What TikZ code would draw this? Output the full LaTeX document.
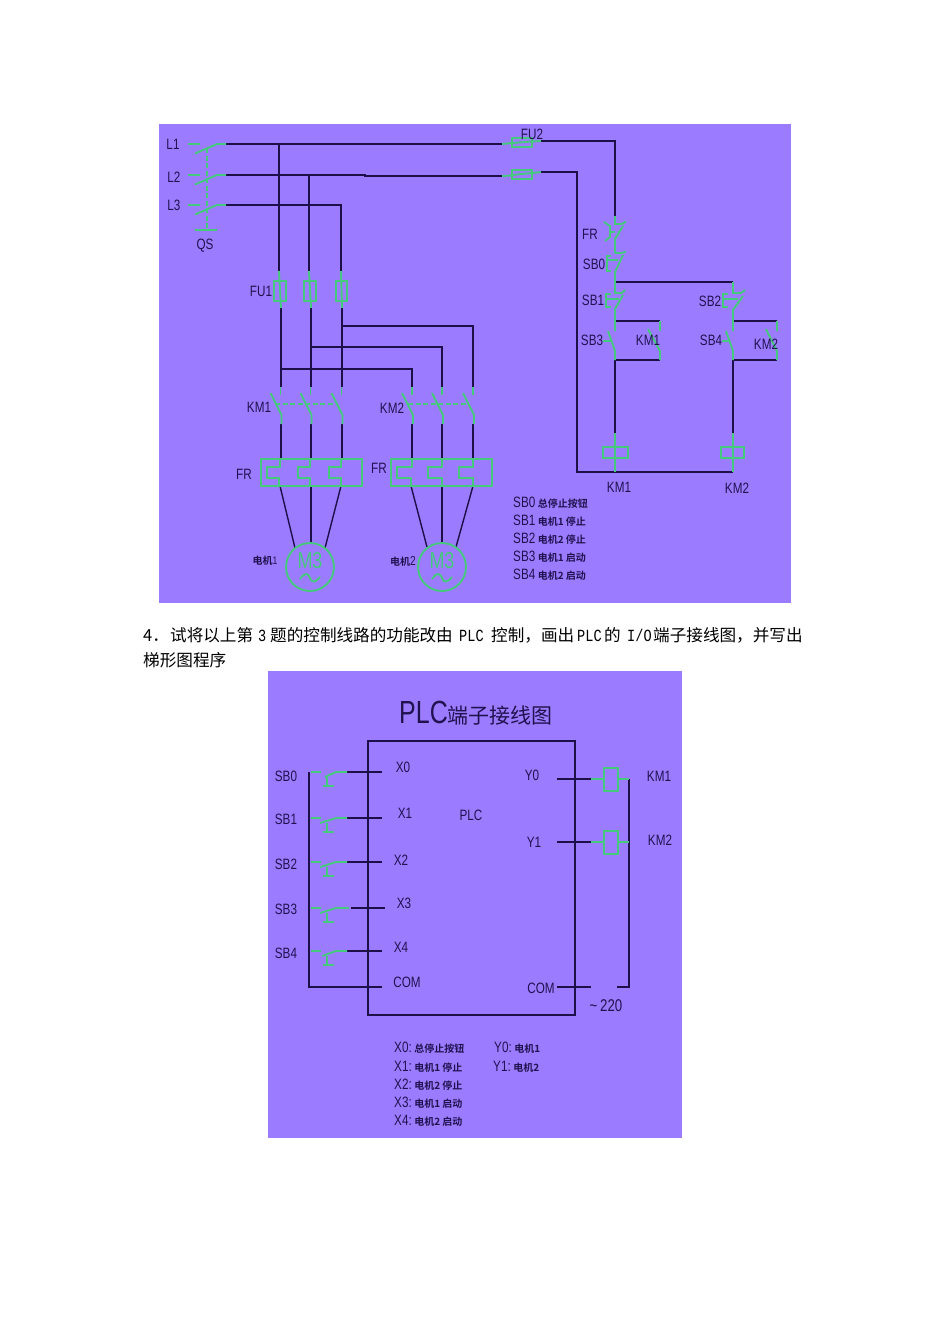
\documentclass[tikz,border=0pt]{standalone}
\usepackage{fontspec}
\setmainfont{Liberation Sans}
\newfontfamily\cad[FakeStretch=0.78]{Liberation Sans}
\newfontfamily\cjk{Noto Sans CJK SC}
\newfontfamily\cjkb{Noto Sans CJK SC Bold}
\newfontfamily\mono[FakeStretch=0.8]{Liberation Mono}
\definecolor{bgv}{HTML}{9B7BFF}
\definecolor{grn}{HTML}{45C97C}
\definecolor{ink}{HTML}{1C0F4A}
\definecolor{lab}{HTML}{20124F}
\tikzset{
 wire/.style={draw=ink,line width=1.4pt},
 gr/.style={draw=grn,line width=1.9pt},
 grd/.style={gr,dash pattern=on 5pt off 2.5pt},
 lbl/.style={inner sep=0pt,text=lab,font=\cad\fontsize{15}{15}\selectfont},
 leg/.style={lbl,anchor=west},
 para/.style={inner sep=0pt,anchor=west,text=black,font=\cjk\fontsize{16.6}{16.6}\selectfont},
}
\newcommand{\zh}[1]{{\cjkb\fontsize{10}{10}\selectfont #1}}
\newcommand{\lat}[1]{{\mono\fontsize{17}{17}\selectfont #1}}
\newcommand{\fr}[2]{\makebox[#1pt][l]{#2}}
% vertical fuse
\newcommand{\fusev}[2]{\draw[gr] (#1,271)--(#2,308); \draw[gr] (#1-5,281) rectangle (#2+5,301);}
% line contactor pole
\newcommand{\pole}[1]{\draw[gr] (#1,387)--(#1,395); \draw[gr] (#1-10,393)--(#1+1,415)--(#1+1,424);}
% PLC input contact
\newcommand{\plcsw}[3]{\draw[gr] (311,#1)--(321,#1); \draw[gr] (#3,#1+5)--(336,#1)--(#2,#1);
 \draw[gr] (327,#1+5)--(327,#1+14); \draw[gr] (323,#1+14)--(334,#1+14);}
\newcommand{\plcoil}[1]{\draw[gr] (591,#1)--(604,#1); \draw[gr] (618,#1)--(629,#1); \draw[gr] (604,#1-11) rectangle (618,#1+12);}
\begin{document}
\begin{tikzpicture}[x=1pt,y=-1pt]
\useasboundingbox (0,0) rectangle (950,1344);
\fill[white] (0,0) rectangle (950,1344);
\fill[bgv] (159,124) rectangle (791,603);
\fill[bgv] (268,671) rectangle (682,1138);
% ---- named points, power circuit
\coordinate (l1) at (226,144); \coordinate (l2) at (226,175); \coordinate (l3) at (226,205);
\coordinate (fa) at (279,271); \coordinate (fb) at (309,271); \coordinate (fc) at (341,271);
\coordinate (ga) at (281,308); \coordinate (gb) at (311,308); \coordinate (gc) at (342,308);
\coordinate (ka) at (281,387); \coordinate (kb) at (311,387); \coordinate (kc) at (342,387);
\coordinate (ma) at (412,387); \coordinate (mb) at (442,387); \coordinate (mc) at (473,387);
\coordinate (fu2a) at (502,144); \coordinate (fu2b) at (502,176);
\coordinate (fu2c) at (541,141); \coordinate (fu2d) at (541,172);
\coordinate (frt) at (615,216); \coordinate (jn) at (615,282); \coordinate (jn2) at (733,282);
\coordinate (c1t) at (615,433); \coordinate (c2t) at (733,433);
\coordinate (rtn) at (577,472); \coordinate (rtn2) at (733,472);
% dark wires
\draw[wire] (l1)--(fu2a);
\draw[wire] (l2)--(365,175)--(365,176)--(fu2b);
\draw[wire] (l3)-|(fc);
\draw[wire] (279,144)--(fa); \draw[wire] (309,175)--(fb);
\draw[wire] (ga)--(ka); \draw[wire] (gb)--(kb); \draw[wire] (gc)--(kc);
\draw[wire] (342,326)-|(mc);
\draw[wire] (311,347)-|(mb);
\draw[wire] (281,369)-|(ma);
\foreach \x in {281,311,342,412,442,473}{\draw[wire] (\x,424)--(\x,459);}
\draw[wire] (280,486)--(295,548); \draw[wire] (311,486)--(311,543); \draw[wire] (341,486)--(325,548);
\draw[wire] (411,486)--(427,547); \draw[wire] (442,486)--(442,543); \draw[wire] (473,486)--(456,547);
\draw[wire] (fu2c)-|(frt);
\draw[wire] (fu2d)-|(rtn)--(rtn2);
\draw[wire] (jn)--(jn2);
\draw[wire] (615,321)--(660,321); \draw[wire] (733,321)--(777,321);
\draw[wire] (660,360)--(615,360)--(c1t);
\draw[wire] (777,360)--(733,360)--(c2t);
% QS
\foreach \y in {144,175,205}{
 \draw[gr] (188,\y)--(200,\y);
 \draw[gr] (195,\y+9.5)--(217,\y)--(226,\y);
}
\draw[grd] (207,148)--(207,230);
\draw[gr] (195,230)--(217,230);
% FU1
\fusev{279}{281}\fusev{309}{311}\fusev{341}{342}
% KM poles
\foreach \x in {280.5,310.5,341.5,412,442,473}{\pole{\x}}
\draw[grd] (275,404)--(335,404);
\draw[grd] (408,404)--(467,404);
% FR boxes
\draw[gr] (261,459) rectangle (362,486);
\draw[gr] (280,459)--(280,467)--(267,467)--(267,478)--(279,478)--(279,486);
\draw[gr] (310,459)--(310,467)--(298,467)--(298,478)--(310,478)--(310,486);
\draw[gr] (341,459)--(341,467)--(329,467)--(329,478)--(341,478)--(341,486);
\draw[gr] (391,459) rectangle (492,486);
\draw[gr] (412,459)--(412,467)--(397,467)--(397,478)--(411,478)--(411,486);
\draw[gr] (442,459)--(442,467)--(428,467)--(428,478)--(442,478)--(442,486);
\draw[gr] (473,459)--(473,467)--(459,467)--(459,478)--(473,478)--(473,486);
% motors
\foreach \x/\n in {310/a,442/b}{
 \draw[gr] (\x,567) circle (24);
 \node[inner sep=0pt,text=grn,font=\cad\fontsize{23}{23}\selectfont] (m\n) at (\x,561) {M3};
 \draw[gr] (\x-10,579) .. controls (\x-5,572) and (\x-2,573) .. (\x,578) .. controls (\x+2,583) and (\x+5,583) .. (\x+10,577);
}
% FU2
\draw[gr] (fu2a)--(512,143) (532,141.5)--(fu2c); \draw[gr] (512,138) rectangle (532,147);
\draw[gr] (512,143)--(532,141.5);
\draw[gr] (fu2b)--(512,175.5) (532,173)--(fu2d); \draw[gr] (512,170) rectangle (532,179);
\draw[gr] (512,175)--(532,173);
% FR contact
\draw[gr] (frt)--(615,224)--(622,224)--(626,221.5);
\draw[gr] (623,226)--(615,239)--(615,253);
\draw[gr] (604,222)--(610,226)--(610,237)--(605,241);
\draw[grd] (610,232)--(620,232);
% SB0
\draw[gr] (615,253)--(622,253)--(626,251.5);
\draw[gr] (623,255)--(615,272)--(jn);
\draw[gr] (611,256)--(607,256)--(607,271)--(611,271);
\draw[gr] (607,260)--(618,260);
% SB1, SB2
\draw[gr] (jn)--(615,293)--(622,293)--(625,290);
\draw[gr] (623,295)--(615,309)--(615,321);
\draw[gr] (611,294)--(606,294)--(606,307)--(611,307);
\draw[gr] (606,299)--(619,299);
\draw[gr] (jn2)--(733,293)--(741,293)--(745,290);
\draw[gr] (743,296)--(733,310)--(733,321);
\draw[gr] (728,294)--(723,294)--(723,307)--(728,307);
\draw[gr] (723,299)--(738,299);
% SB3, SB4, KM aux
\draw[gr] (615,321)--(615,331) (608,331)--(615,351)--(615,360);
\draw[gr] (603,341)--(612,341);
\draw[gr] (733,321)--(733,331) (726,331)--(733,351)--(733,360);
\draw[gr] (722,341)--(730,341);
\draw[gr] (660,321)--(660,331) (648,329)--(660,351)--(660,360);
\draw[gr] (777,321)--(777,331) (766,329)--(777,351)--(777,360);
% coils
\draw[gr] (c1t)--(615,472); \draw[gr] (603,447) rectangle (628,458);
\draw[gr] (c2t)--(733,472); \draw[gr] (721,447) rectangle (744,458);
% labels top
\node[lbl] (tL1) at (173,144) {L1};
\node[lbl] (tL2) at (174,177) {L2};
\node[lbl] (tL3) at (174,205) {L3};
\node[lbl] (tQS) at (205,246) {QS};
\node[lbl] (tFU1) at (261,291) {FU1};
\node[lbl] (tFU2) at (532,134) {FU2};
\node[lbl] (tFRa) at (590,234) {FR};
\node[lbl] (tSB0) at (594,264) {SB0};
\node[lbl] (tSB1) at (593,300) {SB1};
\node[lbl] (tSB2) at (710,301) {SB2};
\node[lbl] (tSB3) at (592,340) {SB3};
\node[lbl] (tSB4) at (711,340) {SB4};
\node[lbl] (tA1) at (648,340) {KM1};
\node[lbl] (tA2) at (766,344) {KM2};
\node[lbl] (tK1) at (259,407) {KM1};
\node[lbl] (tK2) at (392,408) {KM2};
\node[lbl] (tFRb) at (244,474) {FR};
\node[lbl] (tFRc) at (379,468) {FR};
\node[lbl] (tC1) at (619,487) {KM1};
\node[lbl] (tC2) at (737,488) {KM2};
\node[lbl] (tM1) at (265,561) {\zh{电机}\fontsize{11}{11}\selectfont 1};
\node[lbl] (tM2) at (403,561) {\zh{电机}\fontsize{13}{13}\selectfont 2};
\node[leg] (l0) at (513,503) {SB0\,\zh{总停止按钮}};
\node[leg] (l1t) at (513,521) {SB1\,\zh{电机1 停止}};
\node[leg] (l2t) at (513,539) {SB2\,\zh{电机2 停止}};
\node[leg] (l3t) at (513,557) {SB3\,\zh{电机1 启动}};
\node[leg] (l4t) at (513,575) {SB4\,\zh{电机2 启动}};
% paragraph
\node[para] (p1) at (143,635) {\fr{27}{4．}\fr{88}{试将以上第}\fr{12}{\lat{3}}\fr{189}{题的控制线路的功能改由}\fr{32}{\lat{PLC}}\fr{86}{控制，画出}\fr{27}{\lat{PLC}}\fr{23}{的}\fr{26}{\lat{I/O}}端子接线图，并写出};
\node[para] (p2) at (143,660) {梯形图程序};
% ---- PLC diagram
\node[inner sep=0pt,text=lab] (title) at (476,713) {{\cad\fontsize{32}{32}\selectfont PLC}{\cjk\fontsize{21}{21}\selectfont 端子接线图}};
\node[draw=ink,line width=1.4pt,minimum width=207pt,minimum height=274pt,inner sep=0pt] (plc) at (471.5,878) {};
\coordinate (busT) at (309,772); \coordinate (busB) at (309,987);
\draw[wire] (busT)--(busB)--(382,987);
\draw[wire] (347,772)--(382,772);
\draw[wire] (347,818)--(382,818);
\draw[wire] (347,862)--(382,862);
\draw[wire] (351,908)--(385,908);
\draw[wire] (347,951)--(382,951);
\plcsw{772}{347}{325}
\plcsw{818}{347}{320}
\plcsw{862}{347}{320}
\plcsw{908}{349}{320}
\plcsw{951}{347}{322}
\coordinate (rt) at (629,779); \coordinate (rb) at (629,987);
\draw[wire] (557,779)--(591,779);
\draw[wire] (557,842)--(591,842);
\draw[wire] (557,987)--(591,987);
\draw[wire] (617,987)--(rb)--(rt);
\plcoil{779}\plcoil{842}
\node[lbl] (x0) at (403,767) {X0};
\node[lbl] (x1) at (405,813) {X1};
\node[lbl] (x2) at (401,860) {X2};
\node[lbl] (x3) at (404,903) {X3};
\node[lbl] (x4) at (401,947) {X4};
\node[lbl] (xc) at (407,982) {COM};
\node[lbl] (s0) at (286,776) {SB0};
\node[lbl] (s1) at (286,819) {SB1};
\node[lbl] (s2) at (286,864) {SB2};
\node[lbl] (s3) at (286,909) {SB3};
\node[lbl] (s4) at (286,953) {SB4};
\node[lbl] (pl) at (471,815) {PLC};
\node[lbl] (y0) at (532,775) {Y0};
\node[lbl] (y1) at (534,842) {Y1};
\node[lbl] (yc) at (541,988) {COM};
\node[lbl,font=\cad\fontsize{17}{17}\selectfont] (v) at (606,1006) {\textasciitilde\,220};
\node[lbl] (k1) at (659,776) {KM1};
\node[lbl] (k2) at (660,840) {KM2};
\node[leg] (a0) at (394,1048) {X0:\,\zh{总停止按钮}};
\node[leg] (a1) at (394,1067) {X1:\,\zh{电机1 停止}};
\node[leg] (a2) at (394,1085) {X2:\,\zh{电机2 停止}};
\node[leg] (a3) at (394,1103) {X3:\,\zh{电机1 启动}};
\node[leg] (a4) at (394,1121) {X4:\,\zh{电机2 启动}};
\node[leg] (b0) at (494,1048) {Y0:\,\zh{电机1}};
\node[leg] (b1) at (493,1067) {Y1:\,\zh{电机2}};
\end{tikzpicture}
\end{document}
